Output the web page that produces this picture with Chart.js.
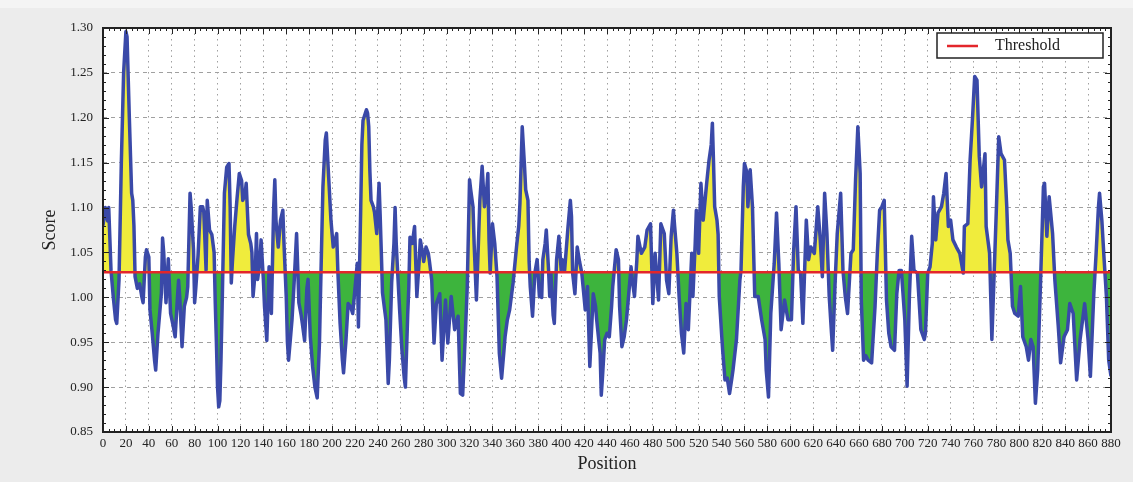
<!DOCTYPE html>
<html>
<head>
<meta charset="utf-8">
<title>Score by position</title>
<script src="https://cdn.jsdelivr.net/npm/chart.js@4.4.1/dist/chart.umd.min.js"></script>
<style>
  html, body { margin: 0; padding: 0; background: #ececec; }
  #wrap { width: 1133px; height: 482px; }
</style>
</head>
<body>
<div id="wrap"><canvas id="scoreChart" width="1133" height="482"></canvas></div>
<script>
// values (position -> score)
const positions = [
  0, 2, 4, 5, 7, 9, 11, 12, 14, 16, 18, 20, 21, 23, 25, 26, 27, 28,
  30, 32, 34, 35, 37, 38, 40, 41, 43, 45, 46, 48, 50, 51, 52, 53, 55, 57, 59,
  61, 63, 65, 66, 67, 69, 71, 73, 74, 76, 77, 79, 80, 81, 83, 85, 87, 88, 90, 91,
  93, 95, 97, 98, 99, 100, 101, 102, 103, 104, 106, 108, 110, 111, 112, 113, 115, 117, 119,
  121, 122, 124, 125, 127, 129, 130, 131, 133, 134, 135, 137, 138, 140, 141, 143, 145,
  147, 149, 150, 151, 152, 153, 155, 157, 158, 160, 161, 162, 164, 165, 167, 169, 171, 173, 174,
  176, 178, 179, 181, 183, 185, 187, 189, 190, 192, 194, 195, 197, 199, 201, 202, 204, 205,
  207, 209, 210, 212, 214, 216, 218, 220, 222, 223, 224, 225, 226, 227, 229, 230, 231, 232, 233,
  234, 236, 237, 239, 240, 241, 242, 243, 244, 246, 247, 249, 250, 252, 254, 255, 256, 257, 259,
  261, 263, 264, 266, 267, 268, 270, 272, 273, 274, 276, 277, 279, 280, 282, 284, 285, 287, 289, 291,
  294, 296, 299, 301, 304, 307, 310, 312, 314, 316, 318, 320, 321, 323, 324, 326, 328, 329,
  331, 333, 335, 336, 337, 338, 340, 342, 344, 346, 348, 350, 351, 353, 355, 358, 361, 363, 364,
  366, 368, 369, 371, 372, 373, 375, 377, 379, 381, 383, 384, 386, 387, 389, 390, 391, 393, 394, 396,
  398, 400, 401, 403, 406, 408, 409, 410, 412, 414, 416, 418, 420, 421, 423, 425, 426, 428, 430, 431,
  433, 434, 435, 436, 438, 440, 442, 444, 445, 448, 450, 451, 453, 455, 457, 459, 461, 462, 464, 466, 467,
  469, 470, 473, 475, 478, 480, 482, 485, 487, 490, 492, 494, 496, 498, 499, 501, 503, 505,
  507, 509, 511, 514, 515, 517, 518, 520, 522, 524, 527, 529, 531, 532, 533, 534, 536, 537,
  538, 540, 541, 543, 545, 547, 549, 550, 553, 556, 557, 559, 560, 562, 563, 565, 567, 569,
  572, 575, 578, 579, 581, 583, 586, 588, 590, 592, 595, 598, 601, 603, 605, 607, 609,
  611, 614, 616, 618, 621, 624, 626, 628, 630, 632, 634, 636, 637, 639, 641, 644, 646,
  648, 650, 653, 655, 657, 659, 661, 662, 664, 666, 668, 671, 674, 676, 678, 680, 682,
  684, 686, 688, 691, 693, 695, 697, 700, 702, 704, 706, 708, 711, 714, 717, 718,
  720, 722, 724, 725, 727, 729, 732, 734, 736, 738, 740, 742, 745, 748, 751, 752,
  755, 757, 759, 761, 763, 765, 767, 770, 771, 774, 776, 778, 780, 782, 784, 787,
  789, 790, 792, 794, 796, 799, 801, 803, 806, 808, 810, 812, 814, 816, 818, 820, 821,
  822, 824, 826, 829, 831, 834, 836, 839, 842, 844, 847, 850, 853, 857,
  860, 862, 865, 867, 869, 870, 872, 874, 876, 878, 880
];
const scores = [
  1.080, 1.100, 1.085, 1.100, 1.030, 1.000, 0.975, 0.971, 1.020, 1.150, 1.250, 1.296, 1.290, 1.200, 1.116, 1.108, 1.080, 1.023,
  1.010, 1.015, 1.000, 0.994, 1.045, 1.053, 1.045, 0.986, 0.960, 0.930, 0.919, 0.960, 0.990, 1.005, 1.066, 1.050, 0.994, 1.043, 0.982,
  0.970, 0.956, 1.000, 1.019, 1.000, 0.945, 0.990, 1.000, 1.012, 1.116, 1.100, 1.053, 0.994, 1.010, 1.047, 1.101, 1.101, 1.095, 1.030, 1.108,
  1.075, 1.070, 1.050, 0.994, 0.950, 0.900, 0.878, 0.885, 0.930, 0.990, 1.116, 1.145, 1.149, 1.101, 1.016, 1.040, 1.079, 1.110, 1.138,
  1.130, 1.108, 1.115, 1.127, 1.070, 1.060, 1.050, 1.001, 1.030, 1.071, 1.020, 1.040, 1.064, 1.020, 0.990, 0.952, 1.034,
  0.982, 1.100, 1.131, 1.086, 1.070, 1.056, 1.086, 1.097, 1.060, 1.000, 0.950, 0.930, 0.960, 0.975, 1.020, 1.071, 0.994, 0.980, 0.971,
  0.952, 1.010, 1.020, 0.956, 0.923, 0.900, 0.888, 0.950, 1.010, 1.123, 1.175, 1.183, 1.134, 1.086, 1.056, 1.060, 1.071, 1.030,
  0.971, 0.930, 0.916, 0.950, 0.993, 0.990, 0.982, 1.010, 1.038, 0.967, 1.034, 1.100, 1.170, 1.197, 1.205, 1.209, 1.205, 1.190, 1.140,
  1.108, 1.101, 1.095, 1.071, 1.100, 1.127, 1.090, 1.049, 1.005, 0.985, 0.975, 0.904, 0.930, 1.016, 1.060, 1.100, 1.060, 1.034, 0.985,
  0.941, 0.910, 0.900, 0.980, 1.012, 1.067, 1.060, 1.079, 1.040, 1.001, 1.040, 1.064, 1.049, 1.040, 1.056, 1.049, 1.040, 1.019, 0.949, 0.993,
  1.004, 0.930, 0.997, 0.949, 1.001, 0.964, 0.979, 0.893, 0.891, 0.950, 1.012, 1.131, 1.120, 1.101, 1.060, 0.997, 1.070, 1.108,
  1.146, 1.101, 1.120, 1.138, 1.064, 1.027, 1.082, 1.060, 1.023, 0.938, 0.910, 0.940, 0.956, 0.975, 0.986, 1.016, 1.056, 1.080, 1.105,
  1.190, 1.146, 1.120, 1.108, 1.040, 1.012, 0.979, 1.027, 1.042, 1.001, 1.000, 1.042, 1.060, 1.075, 1.030, 1.001, 1.027, 0.980, 0.971, 1.042,
  1.068, 1.030, 1.042, 1.030, 1.079, 1.108, 1.090, 1.027, 1.004, 1.056, 1.040, 1.027, 1.000, 0.986, 1.012, 0.923, 0.950, 1.004, 0.990, 0.975,
  0.950, 0.938, 0.891, 0.910, 0.953, 0.960, 0.956, 0.990, 1.012, 1.053, 1.042, 0.990, 0.945, 0.956, 0.975, 1.004, 1.034, 1.020, 1.001, 1.040, 1.068,
  1.055, 1.049, 1.056, 1.075, 1.082, 0.993, 1.049, 0.997, 1.082, 1.071, 1.019, 1.004, 1.068, 1.097, 1.080, 1.049, 1.000, 0.960,
  0.938, 0.993, 0.964, 1.049, 1.001, 1.060, 1.097, 1.049, 1.127, 1.086, 1.127, 1.152, 1.170, 1.194, 1.150, 1.101, 1.086, 1.070,
  1.001, 0.960, 0.941, 0.908, 0.910, 0.893, 0.910, 0.919, 0.953, 1.019, 1.030, 1.123, 1.149, 1.140, 1.101, 1.142, 1.101, 1.001,
  1.001, 0.975, 0.953, 0.919, 0.889, 0.982, 1.038, 1.094, 1.038, 0.964, 0.997, 0.975, 0.975, 1.053, 1.101, 1.030, 1.027,
  0.971, 1.086, 1.042, 1.056, 1.049, 1.101, 1.068, 1.023, 1.116, 1.071, 1.001, 0.960, 0.941, 1.012, 1.071, 1.116, 1.030,
  1.001, 0.982, 1.049, 1.053, 1.131, 1.190, 1.138, 0.997, 0.930, 0.935, 0.930, 0.927, 0.990, 1.049, 1.097, 1.101, 1.108,
  0.997, 0.960, 0.945, 0.941, 1.004, 1.030, 1.030, 0.975, 0.901, 1.001, 1.068, 1.030, 1.027, 0.964, 0.953, 0.960,
  1.027, 1.034, 1.060, 1.112, 1.064, 1.094, 1.101, 1.116, 1.138, 1.079, 1.086, 1.064, 1.056, 1.049, 1.027, 1.079,
  1.082, 1.153, 1.197, 1.246, 1.242, 1.157, 1.123, 1.160, 1.079, 1.049, 0.953, 1.027, 1.101, 1.179, 1.160, 1.153,
  1.101, 1.064, 1.049, 0.990, 0.982, 0.979, 1.012, 0.956, 0.945, 0.930, 0.953, 0.945, 0.882, 0.919, 0.997, 1.080, 1.123,
  1.127, 1.068, 1.112, 1.071, 1.019, 0.967, 0.927, 0.956, 0.964, 0.993, 0.982, 0.908, 0.953, 0.993,
  0.953, 0.912, 1.004, 1.049, 1.100, 1.116, 1.086, 1.042, 1.001, 0.930, 0.912
];
const threshold = 1.028;
const xRange = [0, 880];
const xStep = 20;
const yRange = [0.85, 1.30];
const yStep = 0.05;

const serif = "'Liberation Serif', 'DejaVu Serif', serif";

const scorePoints = positions.map((p, i) => ({ x: p, y: scores[i] }));
const thresholdPoints = xRange.map(p => ({ x: p, y: threshold }));

// page background + white plot area
const backdrop = {
  id: 'backdrop',
  beforeDraw(chart) {
    const { ctx, chartArea: a } = chart;
    ctx.save();
    ctx.fillStyle = '#f4f4f4';
    ctx.fillRect(0, 0, chart.width, chart.height);
    ctx.fillStyle = '#ececec';
    ctx.fillRect(0, 8, chart.width, chart.height - 8);
    ctx.fillStyle = '#ffffff';
    ctx.fillRect(a.left, a.top, a.right - a.left, a.bottom - a.top);
    ctx.restore();
  }
};

// box frame, inward tick marks and the boxed legend
const frame = {
  id: 'frame',
  afterDraw(chart) {
    const { ctx, chartArea: a, scales } = chart;
    ctx.save();
    ctx.strokeStyle = '#222';
    ctx.lineWidth = 1;
    ctx.beginPath();
    for (let v = xRange[0]; v <= xRange[1]; v += 5) {
      const px = Math.round(scales.x.getPixelForValue(v)) + 0.5;
      const len = v % xStep === 0 ? 6 : 3;
      ctx.moveTo(px, a.bottom); ctx.lineTo(px, a.bottom - len);
      ctx.moveTo(px, a.top); ctx.lineTo(px, a.top + len);
    }
    for (let k = 0; k <= 45; k++) {
      const v = yRange[0] + k * 0.01;
      const py = Math.round(scales.y.getPixelForValue(v)) + 0.5;
      const len = k % 5 === 0 ? 6 : 3;
      ctx.moveTo(a.left, py); ctx.lineTo(a.left + len, py);
      ctx.moveTo(a.right, py); ctx.lineTo(a.right - len, py);
    }
    ctx.stroke();
    ctx.lineWidth = 2;
    ctx.strokeRect(a.left, a.top, a.right - a.left, a.bottom - a.top);

    // legend
    const ds = chart.data.datasets[1];
    const bx = 937, by = 33, bw = 166, bh = 25;
    ctx.fillStyle = '#fff';
    ctx.fillRect(bx, by, bw, bh);
    ctx.lineWidth = 1.5;
    ctx.strokeStyle = '#222';
    ctx.strokeRect(bx, by, bw, bh);
    ctx.strokeStyle = ds.borderColor;
    ctx.lineWidth = 2.5;
    ctx.beginPath();
    ctx.moveTo(bx + 10, by + 13); ctx.lineTo(bx + 41, by + 13);
    ctx.stroke();
    ctx.fillStyle = '#222';
    ctx.font = '16px ' + serif;
    ctx.textBaseline = 'middle';
    ctx.fillText(ds.label, bx + 58, by + 13);
    ctx.restore();
  }
};

new Chart(document.getElementById('scoreChart'), {
  type: 'line',
  data: {
    datasets: [
      {
        label: 'Score',
        data: scorePoints,
        borderColor: '#3a49a8',
        borderWidth: 3.5,
        borderJoinStyle: 'round',
        pointRadius: 0,
        tension: 0,
        order: 1,
        fill: { target: { value: threshold }, above: '#f0ec3c', below: '#3db43d' }
      },
      {
        label: 'Threshold',
        data: thresholdPoints,
        borderColor: '#e3262b',
        borderWidth: 2.5,
        pointRadius: 0,
        fill: false,
        order: 0
      }
    ]
  },
  options: {
    responsive: false,
    animation: false,
    devicePixelRatio: 1,
    layout: { padding: { top: 28, right: 22, left: 0, bottom: 0 } },
    plugins: {
      legend: { display: false },
      tooltip: { enabled: false }
    },
    scales: {
      x: {
        type: 'linear',
        min: xRange[0],
        max: xRange[1],
        afterFit(scale) { scale.height = 50; },
        ticks: {
          stepSize: xStep,
          autoSkip: false,
          maxRotation: 0,
          padding: 4,
          color: '#222',
          font: { family: serif, size: 13 }
        },
        grid: { color: '#a0a0a0', lineWidth: 1, drawTicks: false },
        border: { display: false, dash: [1.5, 4] },
        title: {
          display: true,
          text: 'Position',
          color: '#222',
          font: { family: serif, size: 18 },
          padding: { top: 0, bottom: 7 }
        }
      },
      y: {
        min: yRange[0],
        max: yRange[1],
        afterFit(scale) { scale.width = 103; },
        ticks: {
          stepSize: yStep,
          padding: 10,
          color: '#222',
          font: { family: serif, size: 13 },
          callback: v => v.toFixed(2)
        },
        grid: { color: '#a0a0a0', lineWidth: 1, drawTicks: false },
        border: { display: false, dash: [4, 4] },
        title: {
          display: true,
          text: 'Score',
          color: '#222',
          font: { family: serif, size: 18 },
          padding: { top: 39, bottom: 0 }
        }
      }
    }
  },
  plugins: [backdrop, frame]
});
</script>
</body>
</html>
